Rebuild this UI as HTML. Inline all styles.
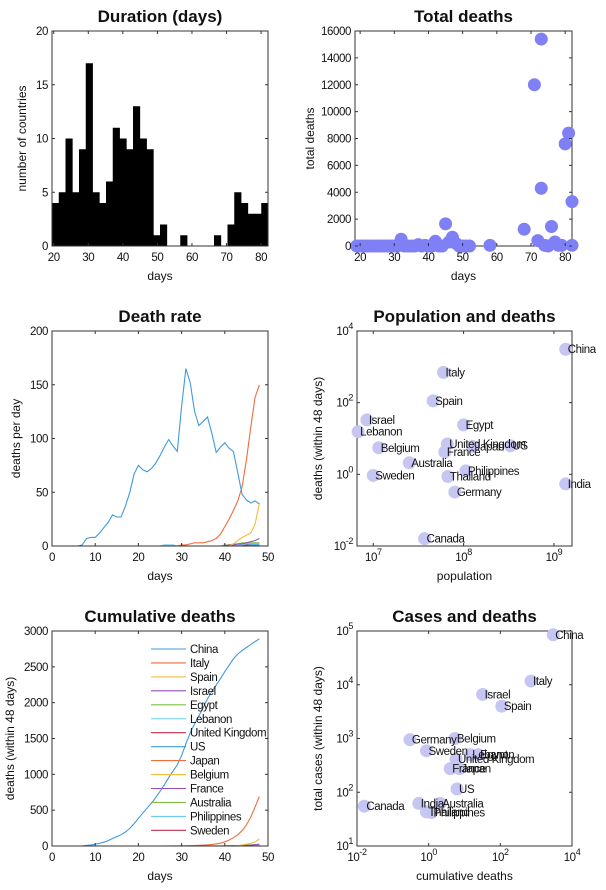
<!DOCTYPE html>
<html><head><meta charset="utf-8"><style>
body{margin:0;background:#fff;}
svg{display:block;font-family:"Liberation Sans",Arial,sans-serif;}
text{fill:#111;}
.tk{letter-spacing:-0.4px;}
</style></head><body>
<svg id="fig" width="606" height="890" viewBox="0 0 606 890" xmlns="http://www.w3.org/2000/svg"></svg>
<script>
// ---------- DATA ----------
const histCounts = [4,5,10,5,9,17,5,4,6,11,10,9,13,10,9,1,2,0,0,1,0,0,0,0,1,0,2,5,4,3,3,4];
const histRange = [19.5, 82];
const histYTicks = [0,5,10,15,20];
const histXTicks = [20,30,40,50,60,70,80];

const tdDays = [19,20,21,22,23,24,25,26,27,28,29,30,31,32,33,34,35,36,37,38,39,40,41,42,43,44,45,46,47,48,49,50,51,52,58,68,71,72,73,73,74,75,76,77,78,79,80,81,82,82];
const tdDeaths = [0,0,0,0,0,0,0,0,0,0,0,0,0,500,0,0,0,0,100,0,50,0,0,350,0,0,1650,300,650,200,0,0,0,0,50,1250,12000,400,15400,4300,50,0,1450,300,50,50,7600,8400,3300,50];
const tdYTicks = [0,2000,4000,6000,8000,10000,12000,14000,16000];
const tdXTicks = [20,30,40,50,60,70,80];

const countries = ["China","Italy","Spain","Israel","Egypt","Lebanon","United Kingdom","US","Japan","Belgium","France","Australia","Philippines","Sweden"];
const rateChina   = [0,0,0,0,0,0,1,7,8,8,12,17,22,29,27,27,37,50,67,75,71,69,72,77,84,92,99,93,88,130,165,152,125,112,116,120,105,87,92,96,91,88,68,48,43,40,42,39];
const rateItaly   = [0,0,0,0,0,0,0,0,0,0,0,0,0,0,0,0,0,0,0,0,0,0,0,0,0,0,0,0,0,1,1,2,3,3,3,4,5,7,11,18,25,33,42,55,80,110,138,150];
const rateSpain   = [0,0,0,0,0,0,0,0,0,0,0,0,0,0,0,0,0,0,0,0,0,0,0,0,0,0,0,0,0,0,0,0,0,0,0,0,0,0,0,0,0,2,5,8,10,12,20,40];
const rateIsrael  = [0,0,0,0,0,0,0,0,0,0,0,0,0,0,0,0,0,0,0,0,0,0,0,0,0,0,0,0,0,0,0,0,0,0,0,0,0,0,0,0,1,1,2,2,3,4,5,7];
const rateEgypt   = [0,0,0,0,0,0,0,0,0,0,0,0,0,0,0,0,0,0,0,0,0,0,0,0,0,0,0,0,0,0,0,0,0,0,0,0,0,0,0,1,1,2,2,3,3,3,3,3];
const rateLebanon = [0,0,0,0,0,0,0,0,0,0,0,0,0,0,0,0,0,0,0,0,0,0,0,0,0,1,1,1,0,0,0,0,0,0,0,0,0,0,0,0,0,1,1,1,2,2,2,2];
const rateUK      = [0,0,0,0,0,0,0,0,0,0,0,0,0,0,0,0,0,0,0,0,0,0,0,0,0,0,0,0,0,0,0,0,0,0,0,0,0,0,0,0,0,0,1,1,1,2,2,2];
const rateUS      = [0,0,0,0,0,0,0,0,0,0,0,0,0,0,0,0,0,0,0,0,0,0,0,0,0,0,0,0,0,0,0,0,0,0,0,0,0,0,0,0,0,1,1,1,1,1,1,1];
const rateJapan   = [0,0,0,0,0,0,0,0,0,0,0,0,0,0,0,0,0,0,0,0,0,0,0,0,0,0,0,0,0,0,0,0,0,0,0,0,0,0,0,0,1,1,1,1,1,1,1,1];
const rateBelgium = [0,0,0,0,0,0,0,0,0,0,0,0,0,0,0,0,0,0,0,0,0,0,0,0,0,0,0,0,0,0,0,0,0,0,0,0,0,0,0,0,0,0,0,1,1,1,1,2];
const rateFrance  = [0,0,0,0,0,0,0,0,0,0,0,0,0,0,0,0,0,0,0,0,0,0,0,0,0,0,0,0,0,0,0,0,0,0,0,0,0,0,0,0,0,0,1,1,1,1,1,1];
const rateAustralia=[0,0,0,0,0,0,0,0,0,0,0,0,0,0,0,0,0,0,0,0,0,0,0,0,0,0,0,0,0,0,0,0,0,0,0,0,0,0,0,0,0,0,0,0,1,1,1,1];
const ratePhilippines=[0,0,0,0,0,0,0,0,0,0,0,0,0,0,0,0,0,0,0,0,0,0,0,0,0,0,0,0,0,0,0,0,0,0,0,0,0,0,0,0,0,0,0,0,0,1,1,1];
const rateSweden  = [0,0,0,0,0,0,0,0,0,0,0,0,0,0,0,0,0,0,0,0,0,0,0,0,0,0,0,0,0,0,0,0,0,0,0,0,0,0,0,0,0,0,0,0,0,0,1,1];
const rateYTicks = [0,50,100,150,200];
const cumYTicks = [0,500,1000,1500,2000,2500,3000];
const dayTicks = [0,10,20,30,40,50];

const scatterNames = ["China","Italy","Spain","Israel","Lebanon","Egypt","United Kingdom","Japan","US","France","Belgium","Australia","Philippines","Thailand","Sweden","India","Germany","Canada"];
const population = [1.35e9,6e7,4.6e7,8.5e6,6.8e6,1e8,6.6e7,1.26e8,3.3e8,6.2e7,1.15e7,2.5e7,1.06e8,6.7e7,1e7,1.35e9,8e7,3.7e7];
const deaths48 = [3100,700,112,33,15.5,24,7,6,6.3,4.2,5.5,2.1,1.25,0.87,0.93,0.54,0.32,0.016];
const cases48 = [85000,11700,4000,6600,500,500,420,275,115,275,1000,62,42,43,590,62,950,55];
const casesDeaths = [3000,720,110,32,14.5,24,5.8,7.2,6.2,4,5.4,2.1,1.2,0.87,0.87,0.53,0.3,0.016];

// ---------- DRAW ----------
const NS="http://www.w3.org/2000/svg";
const svg=document.getElementById('fig');
function mk(tag,attrs,parent){const e=document.createElementNS(NS,tag);for(const k in attrs)e.setAttribute(k,attrs[k]);(parent||svg).appendChild(e);return e;}
const colors=["#3f9ade","#ee6e3e","#f3bd3c","#9b4fb8","#7fbf45","#68ccf2","#c0304e"];

function linS(d0,d1,p0,p1){return v=>p0+(v-d0)/(d1-d0)*(p1-p0);}
function logS(d0,d1,p0,p1){return v=>p0+(Math.log10(v)-d0)/(d1-d0)*(p1-p0);}

function frame(g,L,T,R,B,title,xlab,ylab,ylabX){
  const t=mk('text',{x:(L+R)/2,y:T-9,'text-anchor':'middle','font-size':17,'font-weight':'bold'},g);t.textContent=title;
  
  
  const xl=mk('text',{x:(L+R)/2,y:B+34,'text-anchor':'middle','font-size':12},g);xl.textContent=xlab;
  
  
  const yl=mk('text',{x:0,y:0,'text-anchor':'middle','font-size':12,transform:`translate(${ylabX},${(T+B)/2}) rotate(-90)`},g);yl.textContent=ylab;
  
  
}
function box(g,L,T,R,B){
  const r=mk('rect',{x:L,y:T,width:R-L,height:B-T,fill:'none',stroke:'#333','stroke-width':1},g);
  
  
}
function xTicks(g,ticks,sx,T,B,fmt){
  ticks.forEach(v=>{const x=sx(v);
    mk('line',{x1:x,y1:B,x2:x,y2:B-3,stroke:'#333'},g);mk('line',{x1:x,y1:T,x2:x,y2:T+3,stroke:'#333'},g);
    const t=mk('text',{x:x,y:B+15,'text-anchor':'middle','font-size':11.5,'class':'tk'},g);
    
    
    if(fmt)fmt(t,v);else t.textContent=v;});
}
function yTicks(g,ticks,sy,L,R,fmt){
  ticks.forEach(v=>{const y=sy(v);
    mk('line',{x1:L,y1:y,x2:L+3,y2:y,stroke:'#333'},g);mk('line',{x1:R,y1:y,x2:R-3,y2:y,stroke:'#333'},g);
    const t=mk('text',{x:L-4,y:y+4,'text-anchor':'end','font-size':11.5,'class':'tk'},g);
    
    
    if(fmt)fmt(t,v);else t.textContent=v;});
}
function powFmt(t,v){const e=Math.round(Math.log10(v));t.textContent='10';const s=mk('tspan',{dy:-6,'font-size':9},t);s.textContent=e;}

// Panel 1: histogram
(function(){
  const g=mk('g',{});
  const L=52,T=31,R=268,B=246;
  const sx=linS(histRange[0],histRange[1],L,R), sy=linS(0,20,B,T);
  const w=(histRange[1]-histRange[0])/histCounts.length;
  histCounts.forEach((c,i)=>{if(!c)return;const x0=sx(histRange[0]+i*w),x1=sx(histRange[0]+(i+1)*w);
    const r=mk('rect',{x:x0,y:sy(c),width:x1-x0+0.4,height:B-sy(c),fill:'#000'},g);
    
    });
  box(g,L,T,R,B);xTicks(g,histXTicks,sx,T,B);yTicks(g,histYTicks,sy,L,R);
  frame(g,L,T,R,B,'Duration (days)','days','number of countries',26);
})();

// Panel 2: total deaths scatter
(function(){
  const g=mk('g',{});
  const L=355,T=31,R=572,B=246;
  const sx=linS(18.5,82,L,R), sy=linS(0,16000,B,T);
  box(g,L,T,R,B);
  tdDays.forEach((d,i)=>{const c=mk('circle',{cx:sx(d),cy:sy(tdDeaths[i]),r:6.5,fill:'#8080f6'},g);
    
    });
  xTicks(g,tdXTicks,sx,T,B);yTicks(g,tdYTicks,sy,L,R);
  frame(g,L,T,R,B,'Total deaths','days','total deaths',314);
})();

function linePanel(name,L,T,R,B,ymax,yt,title,ylab,cum){
  const g=mk('g',{});
  const sx=linS(0,50,L,R), sy=linS(0,ymax,B,T);
  const series=[rateChina,rateItaly,rateSpain,rateIsrael,rateEgypt,rateLebanon,rateUK,rateUS,rateJapan,rateBelgium,rateFrance,rateAustralia,ratePhilippines,rateSweden];
  for(let k=series.length-1;k>=0;k--){
    let acc=0;const vals=series[k].map(v=>cum?(acc+=v):v);
    const d=vals.map((v,i)=>(i?'L':'M')+sx(i+1).toFixed(1)+','+sy(v).toFixed(1)).join('');
    const p=mk('path',{d:d,fill:'none',stroke:colors[k%7],'stroke-width':1.1},g);
    
    
  }
  box(g,L,T,R,B);xTicks(g,dayTicks,sx,T,B);yTicks(g,yt,sy,L,R);
  frame(g,L,T,R,B,title,'days',ylab,cum?14:20);
  return g;
}
linePanel('death-rate-chart',52,331,268,546,200,rateYTicks,'Death rate','deaths per day',false);
const cg=linePanel('cumulative-deaths-chart',52,631,268,846,3000,cumYTicks,'Cumulative deaths','deaths (within 48 days)',true);
countries.forEach((n,i)=>{const y=649+i*13.95;
  const l=mk('line',{x1:151,y1:y,x2:186,y2:y,stroke:colors[i%7],'stroke-width':1.1},cg);
  
  
  const t=mk('text',{x:190,y:y+4,'font-size':11.5,'class':'tk'},cg);t.textContent=n;
  
  });

function logScatter(name,L,T,R,B,xd,yd,xs,ys,xt,yt,title,xlab,ylab,ylabX){
  const g=mk('g',{});
  const sx=logS(xd[0],xd[1],L,R), sy=logS(yd[0],yd[1],B,T);
  box(g,L,T,R,B);
  xs.forEach((v,i)=>{const c=mk('circle',{cx:sx(v),cy:sy(ys[i]),r:6.5,fill:'#c6c6f2'},g);
    
    });
  xs.forEach((v,i)=>{const t=mk('text',{x:sx(v)+2,y:sy(ys[i])+4,'font-size':11.5,'class':'tk'},g);t.textContent=scatterNames[i];
    
    });
  xTicks(g,xt,sx,T,B,powFmt);yTicks(g,yt,sy,L,R,powFmt);
  frame(g,L,T,R,B,title,xlab,ylab,ylabX);
}
logScatter('population-deaths-scatter',357,331,572,546,[6.82,9.2],[-2,4],population,deaths48,[1e7,1e8,1e9],[1e-2,1,1e2,1e4],'Population and deaths','population','deaths (within 48 days)',322);
logScatter('cases-deaths-scatter',357,631,572,846,[-2,4],[1,5],casesDeaths,cases48,[1e-2,1,1e2,1e4],[1e1,1e2,1e3,1e4,1e5],'Cases and deaths','cumulative deaths','total cases (within 48 days)',322);
</script>
</body></html>
